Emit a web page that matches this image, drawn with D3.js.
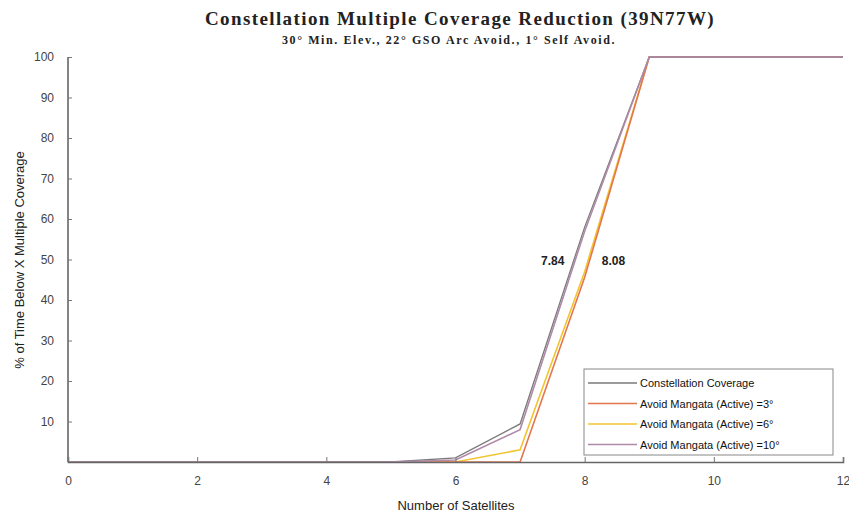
<!DOCTYPE html>
<html><head><meta charset="utf-8">
<script src="https://cdn.jsdelivr.net/npm/d3@7"></script>
<style>body{margin:0;background:#fff}svg{display:block}</style>
</head><body>
<svg id="c" width="849" height="517"></svg>
<script>
const satellites = [0,1,2,3,4,5,6,7,8,9,10,11,12];
const coverage   = [0,0,0,0,0,0,1,9.4,58,100,100,100,100];
const avoid3     = [0,0,0,0,0,0,0,0,45.6,100,100,100,100];
const avoid6     = [0,0,0,0,0,0,0,3,47,100,100,100,100];
const avoid10    = [0,0,0,0,0,0,0.5,8,57,100,100,100,100];
const seriesNames = ["Constellation Coverage","Avoid Mangata (Active) =3°","Avoid Mangata (Active) =6°","Avoid Mangata (Active) =10°"];
const seriesColors = ["#7a7a7a","#e4764e","#f2c530","#b08aa8"];
const xTicks = [0,2,4,6,8,10,12];
const yTicks = [10,20,30,40,50,60,70,80,90,100];
const annotations = [{x:7.84,y:50,text:"7.84",side:"left"},{x:8.08,y:50,text:"8.08",side:"right"}];

const svg = d3.select("#c");
const x = d3.scaleLinear().domain([0,12]).range([68,843]);
const y = d3.scaleLinear().domain([0,100]).range([462,57]);

// title
svg.append("text").attr("x",460).attr("y",25).attr("text-anchor","middle")
  .attr("font-family","Liberation Serif").attr("font-weight","bold").attr("font-size",19)
  .attr("letter-spacing",1.4).attr("fill","#222").text("Constellation Multiple Coverage Reduction (39N77W)");
svg.append("text").attr("x",449).attr("y",44).attr("text-anchor","middle")
  .attr("font-family","Liberation Serif").attr("font-weight","bold").attr("font-size",12)
  .attr("letter-spacing",1.6).attr("fill","#222").text("30° Min. Elev., 22° GSO Arc Avoid., 1° Self Avoid.");

// lines
const allSeries = [coverage, avoid3, avoid6, avoid10];
const line = d3.line().x((d,i)=>x(satellites[i])).y(d=>y(d));
const drawOrder = [2,1,0,3];
drawOrder.forEach(k=>{
  svg.append("path").datum(allSeries[k]).attr("d",line).attr("fill","none")
    .attr("stroke",seriesColors[k]).attr("stroke-width",k===0?1.3:1.6);
});

// axes
const ya = svg.append("g").attr("transform","translate(68,0)")
  .call(d3.axisLeft(y).tickValues(yTicks).tickSize(-4).tickPadding(14));
const xa = svg.append("g").attr("transform","translate(0,462)")
  .call(d3.axisBottom(x).tickValues(xTicks).tickSize(-5).tickPadding(14));
[ya,xa].forEach(a=>{
  a.select(".domain").attr("stroke","#666").attr("stroke-width",1.6);
  a.selectAll(".tick line").attr("stroke","#777");
  a.selectAll("text").attr("font-family","Liberation Sans").attr("font-size",12).attr("fill","#444");
});
ya.select(".domain").attr("d","M0,57H0V462");

svg.append("text").attr("x",456).attr("y",510).attr("text-anchor","middle")
  .attr("font-family","Liberation Sans").attr("font-size",13).attr("fill","#222").text("Number of Satellites");
svg.append("text").attr("transform","translate(24,260) rotate(-90)").attr("text-anchor","middle")
  .attr("font-family","Liberation Sans").attr("font-size",13).attr("fill","#222").text("% of Time Below X Multiple Coverage");

// annotations
annotations.forEach(a=>{
  svg.append("text").attr("x",x(a.x)+(a.side==="left"?-10:12)).attr("y",y(a.y)+5)
    .attr("text-anchor",a.side==="left"?"end":"start")
    .attr("font-family","Liberation Sans").attr("font-weight","bold").attr("font-size",12)
    .attr("fill","#222").text(a.text);
});

// legend
const lg = svg.append("g").attr("transform","translate(584,369)");
lg.append("rect").attr("width",249).attr("height",86).attr("fill","#fff").attr("stroke","#888").attr("stroke-width",1);
seriesNames.forEach((n,i)=>{
  const yy = 14 + i*20.5;
  lg.append("line").attr("x1",4).attr("x2",53).attr("y1",yy).attr("y2",yy)
    .attr("stroke",seriesColors[i]).attr("stroke-width",1.6);
  lg.append("text").attr("x",56).attr("y",yy+4).attr("font-family","Liberation Sans")
    .attr("font-size",11).attr("fill","#111").text(n);
});
</script>
</body></html>
